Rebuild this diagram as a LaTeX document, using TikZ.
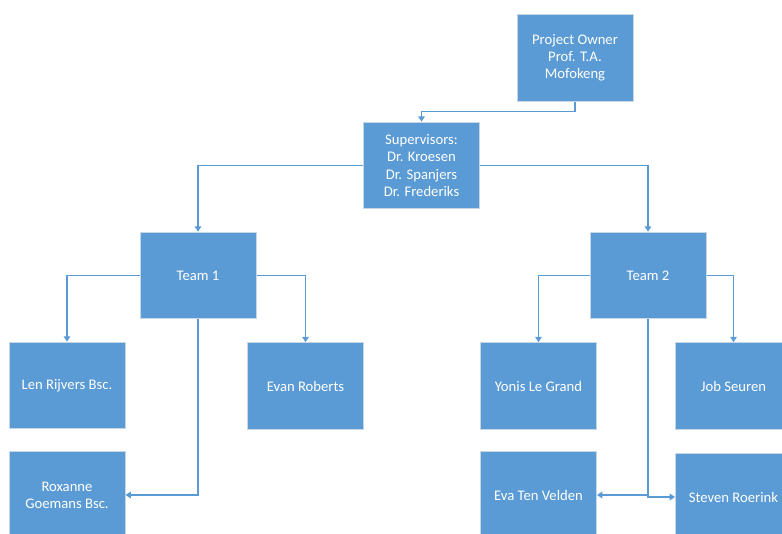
\documentclass[tikz,border=0pt]{standalone}
\usepackage{fontspec}
\setmainfont{Carlito}
\usetikzlibrary{arrows.meta}
\definecolor{boxblue}{HTML}{5B9BD5}
\definecolor{boxedge}{HTML}{C9D6E6}
\definecolor{linkblue}{HTML}{5B9BD5}
\tikzset{
  orgbox/.style={rectangle, fill=boxblue, draw=boxedge, line width=0.75pt,
    minimum width=87pt, minimum height=65pt, inner sep=1pt,
    text=white, align=center, font=\fontsize{11pt}{12.8pt}\selectfont},
  conn/.style={draw=linkblue, line width=0.8pt,
    -{Triangle[width=5pt,length=4pt]}}
}
\begin{document}
\begin{tikzpicture}[x=0.75pt,y=-0.75pt]
\useasboundingbox (0,0) rectangle (782,534);
\clip (0,0) rectangle (782,534);
\node[orgbox] (po) at (575,58) {Project Owner\\Prof. T.A.\\Mofokeng};
\node[orgbox] (sup) at (421.5,165.5) {Supervisors:\\Dr. Kroesen\\Dr. Spanjers\\Dr. Frederiks};
\node[orgbox] (t1) at (198,275.5) {Team 1};
\node[orgbox] (t2) at (648,275.5) {Team 2};
\node[orgbox] (len) at (67,385.5) {Len Rijvers Bsc.};
\node[orgbox] (evan) at (305.5,386) {Evan Roberts};
\node[orgbox] (rox) at (67,495) {Roxanne\\Goemans Bsc.};
\node[orgbox] (yon) at (538.5,386) {Yonis Le Grand};
\node[orgbox] (job) at (733.5,386) {Job Seuren};
\node[orgbox] (eva) at (538.5,495) {Eva Ten Velden};
\node[orgbox] (stev) at (733.5,497) {Steven Roerink};

\draw[conn] (po.south) -- ++(0,10) -| (sup.north);
\draw[conn] (sup.west) -| (t1.north);
\draw[conn] (sup.east) -| (t2.north);
\draw[conn] (t1.west) -| (len.north);
\draw[conn] (t1.east) -| (evan.north);
\draw[conn] (t1.south) |- (rox.east);
\draw[conn] (t2.west) -| (yon.north);
\draw[conn] (t2.east) -| (job.north);
\draw[conn] (t2.south) |- (stev.west);
\coordinate (j2) at (t2.south |- eva.east);
\draw[conn] (j2) -- (eva.east);
\end{tikzpicture}
\end{document}
